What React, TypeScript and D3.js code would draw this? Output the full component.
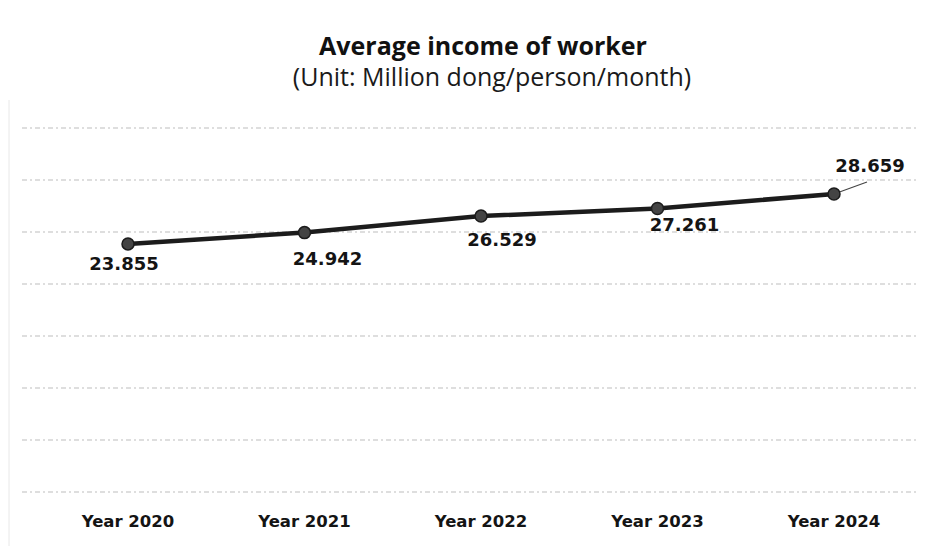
import * as React from "react"
import * as d3 from "d3"

const years = ["Year 2020", "Year 2021", "Year 2022", "Year 2023", "Year 2024"]
const income = [23.855, 24.942, 26.529, 27.261, 28.659]
const gridTicks = [0, 5, 10, 15, 20, 25, 30, 35]

// hand placed label offsets from each marker (dx, dy to baseline)
const labelOffsets = [
  [-4, 26],
  [23, 32],
  [21, 30],
  [27, 23],
  [36, -22],
]

const width = 941
const height = 546
const titleFont = "'Open Sans', 'Noto Sans', sans-serif"
const labelFont = "'DejaVu Sans', Verdana, sans-serif"

export default function App() {
  const x = d3
    .scalePoint<string>()
    .domain(years)
    .range([128, 834])

  const y = d3.scaleLinear().domain([0, 35]).range([492, 128])

  const line = d3
    .line<number>()
    .x((_, i) => x(years[i]) ?? 0)
    .y((d) => y(d))

  const lastX = x(years[4]) ?? 0
  const lastY = y(income[4])

  return (
    <svg
      width={width}
      height={height}
      viewBox={`0 0 ${width} ${height}`}
      style={{ position: "absolute", left: 0, top: 0, background: "#fff" }}
    >
      <rect width={width} height={height} fill="#fff" />
      <line x1={9} x2={9} y1={100} y2={546} stroke="#e8e8e8" strokeWidth={1} />

      {/* title */}
      <text
        x={483}
        y={55}
        textAnchor="middle"
        fontFamily={titleFont}
        fontWeight="bold"
        fontSize={25}
        fill="#111"
      >
        Average income of worker
      </text>
      <text
        x={492}
        y={86}
        textAnchor="middle"
        fontFamily={titleFont}
        fontSize={25}
        fill="#1a1a1a"
      >
        (Unit: Million dong/person/month)
      </text>

      {/* gridlines */}
      {gridTicks.map((t) => (
        <line
          key={t}
          x1={22}
          x2={918}
          y1={y(t)}
          y2={y(t)}
          stroke="#bdbdbd"
          strokeWidth={1}
          strokeDasharray="5 3 2 3"
        />
      ))}

      {/* category labels */}
      {years.map((yr) => (
        <text
          key={yr}
          x={x(yr)}
          y={527}
          textAnchor="middle"
          fontFamily={labelFont}
          fontWeight="bold"
          fontSize={16.5}
          fill="#141414"
        >
          {yr}
        </text>
      ))}

      {/* series */}
      <path d={line(income) ?? ""} fill="none" stroke="#1c1c1c" strokeWidth={4.5} />

      {/* leader line for last label */}
      <line
        x1={lastX}
        y1={lastY}
        x2={lastX + 33}
        y2={lastY - 12}
        stroke="#444"
        strokeWidth={1.2}
      />

      {income.map((v, i) => (
        <circle
          key={i}
          cx={x(years[i])}
          cy={y(v)}
          r={6}
          fill="#444"
          stroke="#1c1c1c"
          strokeWidth={1.5}
        />
      ))}

      {income.map((v, i) => (
        <text
          key={i}
          x={(x(years[i]) ?? 0) + labelOffsets[i][0]}
          y={y(v) + labelOffsets[i][1]}
          textAnchor="middle"
          fontFamily={labelFont}
          fontWeight="bold"
          fontSize={18}
          fill="#141414"
        >
          {d3.format(".3f")(v)}
        </text>
      ))}
    </svg>
  )
}
